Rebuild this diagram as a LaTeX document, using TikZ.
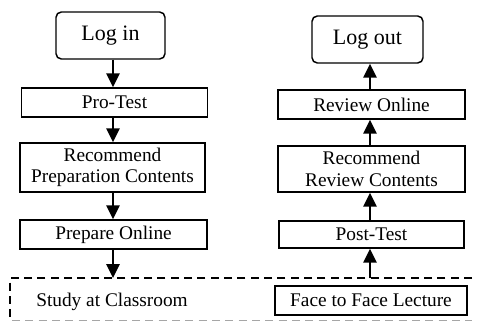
\documentclass[tikz,border=0pt]{standalone}
\usepackage{fontspec}
\setmainfont{Liberation Serif}
\usetikzlibrary{arrows.meta}
\begin{document}
\begin{tikzpicture}[x=0.75pt,y=-0.75pt,
  box/.style={draw,line width=1.1pt,inner sep=0pt,align=center,font=\fontsize{14.5}{16}\selectfont},
  term/.style={box,rounded corners=4pt,font=\fontsize{16.5}{18}\selectfont},
  arr/.style={line width=1.5pt,-{Triangle[width=10pt,length=10.5pt]}}]
\useasboundingbox (0,0) rectangle (477,322);
\node[term,minimum width=109*0.75pt,minimum height=47*0.75pt] (login) at (110.5,35.5) {Log in};
\node[box,minimum width=186*0.75pt,minimum height=29*0.75pt] (protest) at (114.5,102.5) {Pro-Test};
\node[box,minimum width=185*0.75pt,minimum height=49*0.75pt] (recprep) at (112.5,167.5) {Recommend\\Preparation Contents};
\node[box,minimum width=187*0.75pt,minimum height=29*0.75pt] (prepare) at (113.5,234.5) {Prepare Online};
\node[term,minimum width=111*0.75pt,minimum height=47*0.75pt] (logout) at (367.5,39.5) {Log out};
\node[box,minimum width=187*0.75pt,minimum height=29*0.75pt] (review) at (371.5,104.5) {Review Online};
\node[box,minimum width=187*0.75pt,minimum height=46*0.75pt] (recrev) at (371.5,169) {Recommend\\Review Contents};
\node[box,minimum width=185*0.75pt,minimum height=27*0.75pt] (post) at (371.5,234.5) {Post-Test};
\node[box,minimum width=192*0.75pt,minimum height=29*0.75pt] (f2f) at (371,300.5) {Face to Face Lecture};
\node[font=\fontsize{14.5}{16}\selectfont] (study) at (112,302) {Study at Classroom};
\coordinate (dl) at (113,278);
\coordinate (dr) at (370,278);
\draw[line width=1.1pt,dashed,dash pattern=on 6pt off 4pt] (472,278) -- (10,278) -- (10,322);
\draw[line width=1pt,gray!70,dash pattern=on 6pt off 4pt] (12,320.5) -- (472,320.5);
\draw[arr] (login.south -| 113,0) -- (protest.north -| 113,0);
\draw[arr] (protest.south -| 113,0) -- (recprep.north -| 113,0);
\draw[arr] (recprep.south -| 113,0) -- (prepare.north -| 113,0);
\draw[arr] (prepare.south -| 113,0) -- (dl);
\draw[arr] (dr) -- (post.south -| 370,0);
\draw[arr] (post.north -| 370,0) -- (recrev.south -| 370,0);
\draw[arr] (recrev.north -| 370,0) -- (review.south -| 370,0);
\draw[arr] (review.north -| 370,0) -- (logout.south -| 370,0);
\end{tikzpicture}
\end{document}
